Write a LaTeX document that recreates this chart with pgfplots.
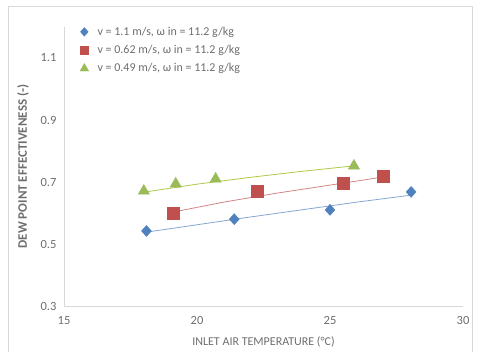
\documentclass[border=0pt]{standalone}
\usepackage{pgfplots}
\pgfplotsset{compat=1.18}
\usepackage{fontspec}
\setmainfont{Carlito}
\definecolor{exblue}{HTML}{4F81BD}
\definecolor{exred}{HTML}{C0504D}
\definecolor{exgreen}{HTML}{9BBB59}
\definecolor{txt}{HTML}{6E6E6E}
\definecolor{axl}{HTML}{D9D9D9}
\pgfplotsset{legmark/.style={legend image code/.code={\path (0pt,0pt) (17pt,0pt); \draw[##1, mark size=#1] plot coordinates {(6pt,0pt)};}}}
\begin{document}
\begin{tikzpicture}[x=1pt,y=1pt]
\path[use as bounding box] (0,0) rectangle (479,352);
\draw[axl,line width=1pt] (8,-2) -- (8,345) -- (472,345) -- (472,-2);
\begin{axis}[
  at={(64pt,46pt)}, anchor=south west,
  scale only axis, width=399pt, height=279pt,
  xmin=15, xmax=30, ymin=0.3, ymax=1.2,
  xtick={15,20,25,30}, ytick={0.3,0.5,0.7,0.9,1.1},
  axis x line*=bottom, axis y line*=left,
  axis line style={axl, line width=0.8pt},
  tick style={draw=none},
  ticklabel style={font=\fontsize{12.5}{14}\selectfont, text=txt},
  x tick label style={yshift=-7pt},
  y tick label style={xshift=-4pt, /pgf/number format/fixed zerofill},
  /pgf/number format/assume math mode=true,
  /pgf/number format/fixed, /pgf/number format/precision=1,
  xlabel={INLET AIR TEMPERATURE (°C)},
  ylabel={\bfseries DEW POINT EFFECTIVENESS (-)},
  xlabel style={font=\fontsize{12}{14}\selectfont, text=txt, at={(axis description cs:0.5,0)}, anchor=center, yshift=-36pt},
  ylabel style={font=\fontsize{13}{15}\selectfont, text=txt, at={(axis description cs:0,0.5)}, anchor=center, yshift=41pt},
  legend style={at={(axis description cs:0.035,1.008)}, anchor=north west, draw=none, fill=none,
    font=\fontsize{12}{14}\selectfont, text=txt, row sep=4.5pt, inner sep=0pt},
  legend cell align=left,
  clip=false,
]
% trend lines
\addplot[exblue!70, line width=0.8pt, forget plot] coordinates {(18.0,0.537) (20,0.562) (22,0.587) (24,0.611) (26,0.635) (28,0.657)};
\addplot[exred!70, line width=0.8pt, forget plot] coordinates {(19.1,0.603) (21,0.635) (23,0.664) (25,0.690) (27,0.716)};
\addplot[exgreen!80!yellow, line width=0.8pt, forget plot] coordinates {(18.0,0.667) (20,0.693) (22,0.715) (24,0.735) (25.9,0.752)};
% data
\addplot[only marks, mark=diamond*, mark size=5.5pt, color=exblue, mark options={fill=exblue, xscale=1.2}, legmark=4.3pt]
  coordinates {(18.1,0.542) (21.4,0.580) (25.0,0.610) (28.05,0.668)};
\addlegendentry{v = 1.1 m/s, ω in = 11.2 g/kg}
\addplot[only marks, mark=square*, mark size=6pt, color=exred, mark options={fill=exred}, legmark=4.2pt]
  coordinates {(19.1,0.600) (22.25,0.671) (25.5,0.697) (27.0,0.720)};
\addlegendentry{v = 0.62 m/s, ω in = 11.2 g/kg}
\addplot[only marks, mark=triangle*, mark size=6.5pt, color=exgreen, mark options={fill=exgreen}, legmark=5pt]
  coordinates {(18.0,0.671) (19.2,0.694) (20.7,0.710) (25.9,0.752)};
\addlegendentry{v = 0.49 m/s, ω in = 11.2 g/kg}
\end{axis}
\end{tikzpicture}
\end{document}
